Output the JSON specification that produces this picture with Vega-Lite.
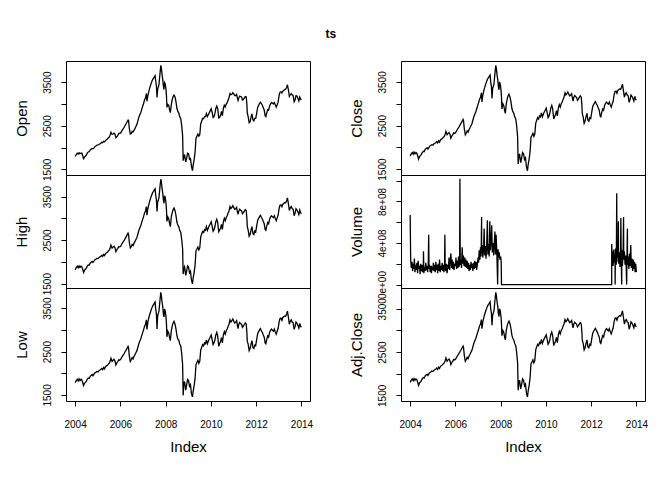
{
  "$schema": "https://vega.github.io/schema/vega-lite/v6.json",
  "padding": {"left": 13, "top": 27, "right": 5, "bottom": 5},
  "background": "white",
  "title": {"text": "ts", "anchor": "middle", "offset": 20},
  "datasets": {
    "px": [
      {"d":"2004-01-02","Open":1795,"High":1815,"Low":1785,"Close":1800},
      {"d":"2004-01-20","Open":1840,"High":1870,"Low":1830,"Close":1850},
      {"d":"2004-02-05","Open":1870,"High":1900,"Low":1860,"Close":1880},
      {"d":"2004-02-20","Open":1850,"High":1865,"Low":1820,"Close":1840},
      {"d":"2004-03-05","Open":1880,"High":1910,"Low":1870,"Close":1890},
      {"d":"2004-03-20","Open":1860,"High":1875,"Low":1830,"Close":1850},
      {"d":"2004-04-05","Open":1870,"High":1900,"Low":1860,"Close":1880},
      {"d":"2004-04-20","Open":1870,"High":1885,"Low":1840,"Close":1860},
      {"d":"2004-05-05","Open":1800,"High":1815,"Low":1770,"Close":1790},
      {"d":"2004-05-17","Open":1745,"High":1755,"Low":1715,"Close":1730},
      {"d":"2004-06-01","Open":1780,"High":1810,"Low":1770,"Close":1790},
      {"d":"2004-06-15","Open":1800,"High":1830,"Low":1790,"Close":1810},
      {"d":"2004-07-01","Open":1830,"High":1860,"Low":1820,"Close":1840},
      {"d":"2004-07-15","Open":1870,"High":1900,"Low":1860,"Close":1880},
      {"d":"2004-08-01","Open":1900,"High":1930,"Low":1890,"Close":1910},
      {"d":"2004-08-15","Open":1910,"High":1925,"Low":1880,"Close":1900},
      {"d":"2004-09-01","Open":1940,"High":1970,"Low":1930,"Close":1950},
      {"d":"2004-09-15","Open":1960,"High":1990,"Low":1950,"Close":1970},
      {"d":"2004-10-01","Open":1980,"High":2010,"Low":1970,"Close":1990},
      {"d":"2004-10-15","Open":1970,"High":1985,"Low":1940,"Close":1960},
      {"d":"2004-11-01","Open":1990,"High":2020,"Low":1980,"Close":2000},
      {"d":"2004-11-15","Open":2020,"High":2050,"Low":2010,"Close":2030},
      {"d":"2004-12-01","Open":2035,"High":2060,"Low":2020,"Close":2040},
      {"d":"2004-12-15","Open":2050,"High":2080,"Low":2040,"Close":2060},
      {"d":"2005-01-03","Open":2060,"High":2075,"Low":2030,"Close":2050},
      {"d":"2005-01-20","Open":2070,"High":2100,"Low":2060,"Close":2080},
      {"d":"2005-02-05","Open":2085,"High":2115,"Low":2075,"Close":2095},
      {"d":"2005-02-20","Open":2100,"High":2130,"Low":2090,"Close":2110},
      {"d":"2005-03-05","Open":2120,"High":2150,"Low":2110,"Close":2130},
      {"d":"2005-03-20","Open":2110,"High":2125,"Low":2080,"Close":2100},
      {"d":"2005-04-05","Open":2140,"High":2170,"Low":2130,"Close":2150},
      {"d":"2005-04-20","Open":2130,"High":2145,"Low":2100,"Close":2120},
      {"d":"2005-05-05","Open":2160,"High":2190,"Low":2150,"Close":2170},
      {"d":"2005-05-20","Open":2180,"High":2210,"Low":2170,"Close":2190},
      {"d":"2005-06-05","Open":2195,"High":2220,"Low":2180,"Close":2200},
      {"d":"2005-06-20","Open":2220,"High":2250,"Low":2210,"Close":2230},
      {"d":"2005-07-05","Open":2240,"High":2270,"Low":2230,"Close":2250},
      {"d":"2005-07-20","Open":2290,"High":2320,"Low":2280,"Close":2300},
      {"d":"2005-08-01","Open":2350,"High":2385,"Low":2345,"Close":2365},
      {"d":"2005-08-20","Open":2300,"High":2315,"Low":2270,"Close":2290},
      {"d":"2005-09-05","Open":2310,"High":2340,"Low":2300,"Close":2320},
      {"d":"2005-09-20","Open":2330,"High":2360,"Low":2320,"Close":2340},
      {"d":"2005-10-05","Open":2310,"High":2325,"Low":2280,"Close":2300},
      {"d":"2005-10-20","Open":2225,"High":2235,"Low":2190,"Close":2210},
      {"d":"2005-11-05","Open":2250,"High":2280,"Low":2240,"Close":2260},
      {"d":"2005-11-20","Open":2280,"High":2310,"Low":2270,"Close":2290},
      {"d":"2005-12-05","Open":2320,"High":2350,"Low":2310,"Close":2330},
      {"d":"2005-12-20","Open":2330,"High":2345,"Low":2300,"Close":2320},
      {"d":"2006-01-05","Open":2330,"High":2360,"Low":2320,"Close":2340},
      {"d":"2006-01-20","Open":2370,"High":2400,"Low":2360,"Close":2380},
      {"d":"2006-02-05","Open":2410,"High":2440,"Low":2400,"Close":2420},
      {"d":"2006-02-20","Open":2440,"High":2470,"Low":2430,"Close":2450},
      {"d":"2006-03-05","Open":2470,"High":2500,"Low":2460,"Close":2480},
      {"d":"2006-03-20","Open":2510,"High":2540,"Low":2500,"Close":2520},
      {"d":"2006-04-05","Open":2550,"High":2580,"Low":2540,"Close":2560},
      {"d":"2006-04-20","Open":2590,"High":2620,"Low":2580,"Close":2600},
      {"d":"2006-05-05","Open":2630,"High":2660,"Low":2620,"Close":2640},
      {"d":"2006-05-12","Open":2625,"High":2635,"Low":2590,"Close":2610},
      {"d":"2006-05-25","Open":2440,"High":2450,"Low":2400,"Close":2420},
      {"d":"2006-06-10","Open":2310,"High":2320,"Low":2270,"Close":2290},
      {"d":"2006-06-25","Open":2320,"High":2350,"Low":2310,"Close":2330},
      {"d":"2006-07-10","Open":2370,"High":2400,"Low":2360,"Close":2380},
      {"d":"2006-07-25","Open":2360,"High":2375,"Low":2330,"Close":2350},
      {"d":"2006-08-10","Open":2400,"High":2430,"Low":2390,"Close":2410},
      {"d":"2006-08-25","Open":2440,"High":2470,"Low":2430,"Close":2450},
      {"d":"2006-09-10","Open":2490,"High":2520,"Low":2480,"Close":2500},
      {"d":"2006-09-25","Open":2530,"High":2560,"Low":2520,"Close":2540},
      {"d":"2006-10-10","Open":2610,"High":2640,"Low":2600,"Close":2620},
      {"d":"2006-10-25","Open":2690,"High":2720,"Low":2680,"Close":2700},
      {"d":"2006-11-10","Open":2750,"High":2780,"Low":2740,"Close":2760},
      {"d":"2006-11-25","Open":2800,"High":2830,"Low":2790,"Close":2810},
      {"d":"2006-12-10","Open":2870,"High":2900,"Low":2860,"Close":2880},
      {"d":"2006-12-25","Open":2940,"High":2970,"Low":2930,"Close":2950},
      {"d":"2007-01-10","Open":3010,"High":3040,"Low":3000,"Close":3020},
      {"d":"2007-01-25","Open":3090,"High":3120,"Low":3080,"Close":3100},
      {"d":"2007-02-10","Open":3140,"High":3170,"Low":3130,"Close":3150},
      {"d":"2007-02-25","Open":3240,"High":3270,"Low":3230,"Close":3250},
      {"d":"2007-03-05","Open":3060,"High":3070,"Low":3010,"Close":3040},
      {"d":"2007-03-20","Open":3190,"High":3220,"Low":3180,"Close":3200},
      {"d":"2007-04-05","Open":3290,"High":3320,"Low":3280,"Close":3300},
      {"d":"2007-04-20","Open":3370,"High":3400,"Low":3360,"Close":3380},
      {"d":"2007-05-05","Open":3440,"High":3470,"Low":3430,"Close":3450},
      {"d":"2007-05-20","Open":3500,"High":3530,"Low":3490,"Close":3510},
      {"d":"2007-06-05","Open":3560,"High":3590,"Low":3550,"Close":3570},
      {"d":"2007-06-20","Open":3590,"High":3620,"Low":3580,"Close":3600},
      {"d":"2007-07-05","Open":3630,"High":3660,"Low":3620,"Close":3640},
      {"d":"2007-07-15","Open":3650,"High":3680,"Low":3640,"Close":3660},
      {"d":"2007-07-25","Open":3520,"High":3530,"Low":3480,"Close":3500},
      {"d":"2007-08-05","Open":3420,"High":3430,"Low":3370,"Close":3400},
      {"d":"2007-08-15","Open":3150,"High":3160,"Low":3020,"Close":3120},
      {"d":"2007-08-25","Open":3330,"High":3370,"Low":3320,"Close":3350},
      {"d":"2007-09-05","Open":3390,"High":3420,"Low":3380,"Close":3400},
      {"d":"2007-09-15","Open":3440,"High":3470,"Low":3430,"Close":3450},
      {"d":"2007-09-25","Open":3590,"High":3620,"Low":3580,"Close":3600},
      {"d":"2007-10-05","Open":3740,"High":3770,"Low":3730,"Close":3750},
      {"d":"2007-10-15","Open":3886,"High":3898,"Low":3866,"Close":3880},
      {"d":"2007-10-25","Open":3810,"High":3825,"Low":3780,"Close":3800},
      {"d":"2007-11-05","Open":3670,"High":3680,"Low":3630,"Close":3650},
      {"d":"2007-11-15","Open":3570,"High":3585,"Low":3540,"Close":3560},
      {"d":"2007-11-25","Open":3420,"High":3430,"Low":3380,"Close":3400},
      {"d":"2007-12-05","Open":3330,"High":3345,"Low":3300,"Close":3320},
      {"d":"2007-12-15","Open":3490,"High":3520,"Low":3480,"Close":3500},
      {"d":"2007-12-26","Open":3460,"High":3475,"Low":3430,"Close":3450},
      {"d":"2008-01-08","Open":3320,"High":3330,"Low":3280,"Close":3300},
      {"d":"2008-01-15","Open":3170,"High":3180,"Low":3120,"Close":3150},
      {"d":"2008-01-22","Open":2920,"High":2930,"Low":2840,"Close":2880},
      {"d":"2008-02-05","Open":2990,"High":3030,"Low":2970,"Close":3000},
      {"d":"2008-02-20","Open":2970,"High":2990,"Low":2930,"Close":2960},
      {"d":"2008-03-05","Open":2860,"High":2880,"Low":2820,"Close":2850},
      {"d":"2008-03-17","Open":2800,"High":2810,"Low":2750,"Close":2780},
      {"d":"2008-04-01","Open":2980,"High":3030,"Low":2970,"Close":3000},
      {"d":"2008-04-15","Open":3090,"High":3120,"Low":3080,"Close":3100},
      {"d":"2008-05-01","Open":3170,"High":3200,"Low":3160,"Close":3180},
      {"d":"2008-05-15","Open":3205,"High":3235,"Low":3195,"Close":3215},
      {"d":"2008-06-01","Open":3160,"High":3175,"Low":3130,"Close":3150},
      {"d":"2008-06-15","Open":3060,"High":3075,"Low":3030,"Close":3050},
      {"d":"2008-07-01","Open":2900,"High":2915,"Low":2870,"Close":2890},
      {"d":"2008-07-15","Open":2830,"High":2845,"Low":2790,"Close":2820},
      {"d":"2008-08-01","Open":2790,"High":2805,"Low":2760,"Close":2780},
      {"d":"2008-08-15","Open":2710,"High":2725,"Low":2680,"Close":2700},
      {"d":"2008-09-01","Open":2660,"High":2675,"Low":2630,"Close":2650},
      {"d":"2008-09-15","Open":2520,"High":2530,"Low":2470,"Close":2500},
      {"d":"2008-10-01","Open":2280,"High":2300,"Low":2200,"Close":2250},
      {"d":"2008-10-10","Open":1700,"High":1720,"Low":1490,"Close":1620},
      {"d":"2008-10-20","Open":1780,"High":1850,"Low":1760,"Close":1800},
      {"d":"2008-11-01","Open":1840,"High":1890,"Low":1810,"Close":1850},
      {"d":"2008-11-20","Open":1670,"High":1690,"Low":1610,"Close":1650},
      {"d":"2008-12-05","Open":1750,"High":1790,"Low":1730,"Close":1760},
      {"d":"2008-12-20","Open":1870,"High":1905,"Low":1855,"Close":1880},
      {"d":"2009-01-05","Open":1860,"High":1880,"Low":1830,"Close":1850},
      {"d":"2009-01-20","Open":1730,"High":1750,"Low":1700,"Close":1720},
      {"d":"2009-02-05","Open":1750,"High":1785,"Low":1740,"Close":1760},
      {"d":"2009-02-20","Open":1580,"High":1590,"Low":1535,"Close":1560},
      {"d":"2009-03-09","Open":1468,"High":1495,"Low":1455,"Close":1462},
      {"d":"2009-03-20","Open":1590,"High":1625,"Low":1580,"Close":1600},
      {"d":"2009-04-05","Open":1720,"High":1755,"Low":1710,"Close":1730},
      {"d":"2009-04-20","Open":1890,"High":1925,"Low":1880,"Close":1900},
      {"d":"2009-05-05","Open":2210,"High":2255,"Low":2200,"Close":2230},
      {"d":"2009-05-20","Open":2260,"High":2290,"Low":2250,"Close":2270},
      {"d":"2009-06-05","Open":2310,"High":2340,"Low":2300,"Close":2320},
      {"d":"2009-06-20","Open":2260,"High":2275,"Low":2230,"Close":2250},
      {"d":"2009-07-05","Open":2290,"High":2320,"Low":2280,"Close":2300},
      {"d":"2009-07-20","Open":2540,"High":2570,"Low":2530,"Close":2550},
      {"d":"2009-08-05","Open":2610,"High":2640,"Low":2600,"Close":2620},
      {"d":"2009-08-20","Open":2670,"High":2700,"Low":2660,"Close":2680},
      {"d":"2009-09-05","Open":2660,"High":2675,"Low":2630,"Close":2650},
      {"d":"2009-09-20","Open":2710,"High":2740,"Low":2700,"Close":2720},
      {"d":"2009-10-05","Open":2710,"High":2725,"Low":2680,"Close":2700},
      {"d":"2009-10-20","Open":2780,"High":2810,"Low":2770,"Close":2790},
      {"d":"2009-11-05","Open":2710,"High":2725,"Low":2680,"Close":2700},
      {"d":"2009-11-20","Open":2750,"High":2780,"Low":2740,"Close":2760},
      {"d":"2009-12-05","Open":2800,"High":2830,"Low":2790,"Close":2810},
      {"d":"2009-12-20","Open":2840,"High":2870,"Low":2830,"Close":2850},
      {"d":"2010-01-05","Open":2890,"High":2920,"Low":2880,"Close":2900},
      {"d":"2010-01-20","Open":2810,"High":2825,"Low":2780,"Close":2800},
      {"d":"2010-02-05","Open":2690,"High":2705,"Low":2660,"Close":2680},
      {"d":"2010-02-20","Open":2710,"High":2740,"Low":2700,"Close":2720},
      {"d":"2010-03-05","Open":2770,"High":2800,"Low":2760,"Close":2780},
      {"d":"2010-03-20","Open":2890,"High":2920,"Low":2880,"Close":2900},
      {"d":"2010-04-05","Open":2950,"High":2980,"Low":2940,"Close":2960},
      {"d":"2010-04-20","Open":2890,"High":2905,"Low":2860,"Close":2880},
      {"d":"2010-05-07","Open":2680,"High":2690,"Low":2620,"Close":2650},
      {"d":"2010-05-20","Open":2690,"High":2725,"Low":2680,"Close":2700},
      {"d":"2010-06-05","Open":2740,"High":2770,"Low":2730,"Close":2750},
      {"d":"2010-06-20","Open":2830,"High":2860,"Low":2820,"Close":2840},
      {"d":"2010-07-05","Open":2730,"High":2745,"Low":2700,"Close":2720},
      {"d":"2010-07-20","Open":2890,"High":2920,"Low":2880,"Close":2900},
      {"d":"2010-08-05","Open":2970,"High":3000,"Low":2960,"Close":2980},
      {"d":"2010-08-20","Open":2930,"High":2945,"Low":2900,"Close":2920},
      {"d":"2010-09-05","Open":2990,"High":3020,"Low":2980,"Close":3000},
      {"d":"2010-09-20","Open":3030,"High":3060,"Low":3020,"Close":3040},
      {"d":"2010-10-05","Open":3090,"High":3120,"Low":3080,"Close":3100},
      {"d":"2010-10-20","Open":3140,"High":3170,"Low":3130,"Close":3150},
      {"d":"2010-11-05","Open":3240,"High":3270,"Low":3230,"Close":3250},
      {"d":"2010-11-20","Open":3210,"High":3225,"Low":3180,"Close":3200},
      {"d":"2010-12-05","Open":3220,"High":3250,"Low":3210,"Close":3230},
      {"d":"2010-12-20","Open":3260,"High":3290,"Low":3250,"Close":3270},
      {"d":"2011-01-05","Open":3230,"High":3245,"Low":3200,"Close":3220},
      {"d":"2011-01-20","Open":3190,"High":3205,"Low":3160,"Close":3180},
      {"d":"2011-02-05","Open":3190,"High":3220,"Low":3180,"Close":3200},
      {"d":"2011-02-20","Open":3220,"High":3250,"Low":3210,"Close":3230},
      {"d":"2011-03-05","Open":3130,"High":3145,"Low":3100,"Close":3120},
      {"d":"2011-03-15","Open":3080,"High":3090,"Low":3030,"Close":3060},
      {"d":"2011-03-25","Open":3130,"High":3160,"Low":3120,"Close":3140},
      {"d":"2011-04-10","Open":3180,"High":3210,"Low":3170,"Close":3190},
      {"d":"2011-04-25","Open":3170,"High":3185,"Low":3140,"Close":3160},
      {"d":"2011-05-10","Open":3160,"High":3175,"Low":3130,"Close":3150},
      {"d":"2011-05-25","Open":3090,"High":3105,"Low":3060,"Close":3080},
      {"d":"2011-06-10","Open":3100,"High":3130,"Low":3090,"Close":3110},
      {"d":"2011-06-25","Open":3140,"High":3170,"Low":3130,"Close":3150},
      {"d":"2011-07-10","Open":3170,"High":3200,"Low":3160,"Close":3180},
      {"d":"2011-07-25","Open":3160,"High":3175,"Low":3130,"Close":3150},
      {"d":"2011-08-05","Open":2980,"High":2990,"Low":2920,"Close":2950},
      {"d":"2011-08-10","Open":2800,"High":2820,"Low":2740,"Close":2780},
      {"d":"2011-08-25","Open":2710,"High":2730,"Low":2670,"Close":2700},
      {"d":"2011-09-10","Open":2570,"High":2590,"Low":2520,"Close":2550},
      {"d":"2011-09-25","Open":2590,"High":2630,"Low":2570,"Close":2600},
      {"d":"2011-10-10","Open":2690,"High":2730,"Low":2670,"Close":2700},
      {"d":"2011-10-25","Open":2770,"High":2810,"Low":2750,"Close":2780},
      {"d":"2011-11-10","Open":2640,"High":2650,"Low":2590,"Close":2620},
      {"d":"2011-11-25","Open":2610,"High":2630,"Low":2570,"Close":2600},
      {"d":"2011-12-10","Open":2670,"High":2710,"Low":2650,"Close":2680},
      {"d":"2011-12-25","Open":2670,"High":2690,"Low":2640,"Close":2660},
      {"d":"2012-01-10","Open":2790,"High":2825,"Low":2780,"Close":2800},
      {"d":"2012-01-25","Open":2920,"High":2950,"Low":2910,"Close":2930},
      {"d":"2012-02-10","Open":2970,"High":3000,"Low":2960,"Close":2980},
      {"d":"2012-02-25","Open":3010,"High":3040,"Low":3000,"Close":3020},
      {"d":"2012-03-10","Open":3040,"High":3070,"Low":3030,"Close":3050},
      {"d":"2012-03-25","Open":3010,"High":3025,"Low":2980,"Close":3000},
      {"d":"2012-04-10","Open":2970,"High":2985,"Low":2940,"Close":2960},
      {"d":"2012-04-25","Open":2910,"High":2925,"Low":2880,"Close":2900},
      {"d":"2012-05-10","Open":2860,"High":2875,"Low":2830,"Close":2850},
      {"d":"2012-05-25","Open":2730,"High":2745,"Low":2700,"Close":2720},
      {"d":"2012-06-05","Open":2710,"High":2725,"Low":2680,"Close":2700},
      {"d":"2012-06-20","Open":2790,"High":2820,"Low":2780,"Close":2800},
      {"d":"2012-07-05","Open":2870,"High":2900,"Low":2860,"Close":2880},
      {"d":"2012-07-20","Open":2860,"High":2875,"Low":2830,"Close":2850},
      {"d":"2012-08-05","Open":2950,"High":2980,"Low":2940,"Close":2960},
      {"d":"2012-08-20","Open":3000,"High":3030,"Low":2990,"Close":3010},
      {"d":"2012-09-05","Open":3030,"High":3060,"Low":3020,"Close":3040},
      {"d":"2012-09-20","Open":3020,"High":3035,"Low":2990,"Close":3010},
      {"d":"2012-10-05","Open":3000,"High":3015,"Low":2970,"Close":2990},
      {"d":"2012-10-20","Open":3030,"High":3060,"Low":3020,"Close":3040},
      {"d":"2012-11-05","Open":2980,"High":2995,"Low":2950,"Close":2970},
      {"d":"2012-11-20","Open":2930,"High":2945,"Low":2900,"Close":2920},
      {"d":"2012-12-05","Open":2980,"High":3010,"Low":2970,"Close":2990},
      {"d":"2012-12-20","Open":3040,"High":3070,"Low":3030,"Close":3050},
      {"d":"2013-01-05","Open":3190,"High":3220,"Low":3180,"Close":3200},
      {"d":"2013-01-20","Open":3270,"High":3300,"Low":3260,"Close":3280},
      {"d":"2013-02-05","Open":3280,"High":3310,"Low":3270,"Close":3290},
      {"d":"2013-02-20","Open":3250,"High":3265,"Low":3220,"Close":3240},
      {"d":"2013-03-05","Open":3290,"High":3320,"Low":3280,"Close":3300},
      {"d":"2013-03-20","Open":3310,"High":3340,"Low":3300,"Close":3320},
      {"d":"2013-04-05","Open":3330,"High":3360,"Low":3320,"Close":3340},
      {"d":"2013-04-20","Open":3340,"High":3355,"Low":3310,"Close":3330},
      {"d":"2013-05-05","Open":3370,"High":3400,"Low":3360,"Close":3380},
      {"d":"2013-05-20","Open":3440,"High":3470,"Low":3430,"Close":3450},
      {"d":"2013-06-05","Open":3320,"High":3330,"Low":3280,"Close":3300},
      {"d":"2013-06-20","Open":3170,"High":3180,"Low":3130,"Close":3150},
      {"d":"2013-07-05","Open":3210,"High":3240,"Low":3200,"Close":3220},
      {"d":"2013-07-20","Open":3240,"High":3270,"Low":3230,"Close":3250},
      {"d":"2013-08-05","Open":3210,"High":3225,"Low":3180,"Close":3200},
      {"d":"2013-08-20","Open":3190,"High":3205,"Low":3160,"Close":3180},
      {"d":"2013-09-05","Open":3050,"High":3060,"Low":3010,"Close":3030},
      {"d":"2013-09-20","Open":3090,"High":3120,"Low":3080,"Close":3100},
      {"d":"2013-10-05","Open":3190,"High":3220,"Low":3180,"Close":3200},
      {"d":"2013-10-20","Open":3180,"High":3195,"Low":3150,"Close":3170},
      {"d":"2013-11-05","Open":3130,"High":3145,"Low":3100,"Close":3120},
      {"d":"2013-11-20","Open":3070,"High":3085,"Low":3040,"Close":3060},
      {"d":"2013-12-05","Open":3160,"High":3190,"Low":3150,"Close":3170},
      {"d":"2013-12-20","Open":3110,"High":3125,"Low":3080,"Close":3100},
      {"d":"2013-12-31","Open":3090,"High":3105,"Low":3060,"Close":3080}
    ],
    "vol": [
      {"d":"2004-01-02","Volume":6.7e8},{"d":"2004-01-10","Volume":2.4e8},{"d":"2004-01-20","Volume":1.6e8},
      {"d":"2004-02-01","Volume":2.2e8},{"d":"2004-02-10","Volume":1.3e8},{"d":"2004-02-20","Volume":2.0e8},
      {"d":"2004-03-01","Volume":1.5e8},{"d":"2004-03-10","Volume":2.5e8},{"d":"2004-03-20","Volume":1.2e8},
      {"d":"2004-04-01","Volume":1.9e8},{"d":"2004-04-10","Volume":1.4e8},{"d":"2004-04-20","Volume":2.1e8},
      {"d":"2004-05-01","Volume":1.1e8},{"d":"2004-05-10","Volume":2.3e8},{"d":"2004-05-20","Volume":1.5e8},
      {"d":"2004-06-01","Volume":1.8e8},{"d":"2004-06-10","Volume":1.0e8},{"d":"2004-06-20","Volume":2.0e8},
      {"d":"2004-07-01","Volume":1.3e8},{"d":"2004-07-10","Volume":1.9e8},{"d":"2004-07-20","Volume":1.2e8},
      {"d":"2004-08-01","Volume":1.6e8},{"d":"2004-08-04","Volume":3.2e8},{"d":"2004-08-10","Volume":1.1e8},{"d":"2004-08-20","Volume":1.7e8},
      {"d":"2004-09-01","Volume":1.3e8},{"d":"2004-09-10","Volume":2.1e8},{"d":"2004-09-20","Volume":1.4e8},
      {"d":"2004-10-01","Volume":1.8e8},{"d":"2004-10-10","Volume":1.2e8},{"d":"2004-10-20","Volume":2.0e8},{"d":"2004-10-27","Volume":4.8e8},
      {"d":"2004-11-01","Volume":1.5e8},{"d":"2004-11-10","Volume":1.9e8},{"d":"2004-11-20","Volume":1.2e8},
      {"d":"2004-12-01","Volume":1.8e8},{"d":"2004-12-10","Volume":1.1e8},{"d":"2004-12-20","Volume":1.6e8},
      {"d":"2005-01-03","Volume":1.4e8},{"d":"2005-01-10","Volume":2.1e8},{"d":"2005-01-20","Volume":1.3e8},
      {"d":"2005-02-01","Volume":1.9e8},{"d":"2005-02-10","Volume":1.2e8},{"d":"2005-02-20","Volume":2.2e8},
      {"d":"2005-03-01","Volume":1.4e8},{"d":"2005-03-10","Volume":1.9e8},{"d":"2005-03-20","Volume":1.1e8},
      {"d":"2005-04-01","Volume":2.0e8},{"d":"2005-04-10","Volume":1.3e8},{"d":"2005-04-20","Volume":2.4e8},
      {"d":"2005-05-01","Volume":1.2e8},{"d":"2005-05-10","Volume":1.8e8},{"d":"2005-05-20","Volume":1.4e8},
      {"d":"2005-06-01","Volume":2.1e8},{"d":"2005-06-10","Volume":1.3e8},{"d":"2005-06-20","Volume":1.9e8},
      {"d":"2005-07-01","Volume":1.2e8},{"d":"2005-07-10","Volume":1.8e8},{"d":"2005-07-15","Volume":4.8e8},{"d":"2005-07-20","Volume":1.7e8},
      {"d":"2005-08-01","Volume":1.3e8},{"d":"2005-08-10","Volume":2.0e8},{"d":"2005-08-20","Volume":1.1e8},
      {"d":"2005-09-01","Volume":1.9e8},{"d":"2005-09-10","Volume":1.5e8},{"d":"2005-09-20","Volume":2.6e8},
      {"d":"2005-10-01","Volume":1.4e8},{"d":"2005-10-10","Volume":2.2e8},{"d":"2005-10-20","Volume":3.0e8},
      {"d":"2005-11-01","Volume":1.6e8},{"d":"2005-11-10","Volume":2.4e8},{"d":"2005-11-20","Volume":1.5e8},
      {"d":"2005-12-01","Volume":2.2e8},{"d":"2005-12-10","Volume":1.4e8},{"d":"2005-12-20","Volume":2.0e8},
      {"d":"2006-01-03","Volume":1.8e8},{"d":"2006-01-10","Volume":2.6e8},{"d":"2006-01-20","Volume":1.5e8},
      {"d":"2006-02-01","Volume":2.3e8},{"d":"2006-02-10","Volume":1.6e8},{"d":"2006-02-20","Volume":2.7e8},
      {"d":"2006-03-01","Volume":1.7e8},{"d":"2006-03-10","Volume":2.2e8},{"d":"2006-03-15","Volume":1.02e9},{"d":"2006-03-20","Volume":1.9e8},
      {"d":"2006-04-01","Volume":2.4e8},{"d":"2006-04-10","Volume":1.6e8},{"d":"2006-04-20","Volume":3.6e8},
      {"d":"2006-05-01","Volume":2.0e8},{"d":"2006-05-10","Volume":2.8e8},{"d":"2006-05-20","Volume":1.8e8},
      {"d":"2006-06-01","Volume":2.6e8},{"d":"2006-06-10","Volume":1.7e8},{"d":"2006-06-20","Volume":2.4e8},
      {"d":"2006-07-01","Volume":1.6e8},{"d":"2006-07-10","Volume":2.3e8},{"d":"2006-07-20","Volume":1.5e8},
      {"d":"2006-08-01","Volume":2.1e8},{"d":"2006-08-10","Volume":1.3e8},{"d":"2006-08-20","Volume":1.9e8},
      {"d":"2006-09-01","Volume":1.4e8},{"d":"2006-09-10","Volume":2.2e8},{"d":"2006-09-20","Volume":1.6e8},
      {"d":"2006-10-01","Volume":2.0e8},{"d":"2006-10-10","Volume":1.3e8},{"d":"2006-10-20","Volume":2.1e8},
      {"d":"2006-11-01","Volume":1.5e8},{"d":"2006-11-10","Volume":2.3e8},{"d":"2006-11-20","Volume":1.6e8},
      {"d":"2006-12-01","Volume":2.2e8},{"d":"2006-12-10","Volume":1.4e8},{"d":"2006-12-20","Volume":1.9e8},
      {"d":"2007-01-03","Volume":2.6e8},{"d":"2007-01-10","Volume":2.1e8},{"d":"2007-01-20","Volume":3.3e8},
      {"d":"2007-02-01","Volume":2.4e8},{"d":"2007-02-10","Volume":3.6e8},{"d":"2007-02-20","Volume":2.7e8},{"d":"2007-02-28","Volume":6.5e8},
      {"d":"2007-03-01","Volume":3.0e8},{"d":"2007-03-10","Volume":3.8e8},{"d":"2007-03-20","Volume":2.6e8},
      {"d":"2007-04-01","Volume":3.4e8},{"d":"2007-04-10","Volume":5.4e8},{"d":"2007-04-20","Volume":2.8e8},
      {"d":"2007-05-01","Volume":3.7e8},{"d":"2007-05-10","Volume":2.5e8},{"d":"2007-05-20","Volume":3.5e8},
      {"d":"2007-06-01","Volume":6.2e8},{"d":"2007-06-10","Volume":2.9e8},{"d":"2007-06-20","Volume":3.9e8},
      {"d":"2007-07-01","Volume":2.7e8},{"d":"2007-07-10","Volume":6.1e8},{"d":"2007-07-20","Volume":3.3e8},
      {"d":"2007-08-01","Volume":4.2e8},{"d":"2007-08-10","Volume":5.7e8},{"d":"2007-08-20","Volume":3.1e8},
      {"d":"2007-09-01","Volume":4.0e8},{"d":"2007-09-10","Volume":2.8e8},{"d":"2007-09-20","Volume":3.8e8},
      {"d":"2007-10-01","Volume":5.1e8},{"d":"2007-10-10","Volume":2.9e8},{"d":"2007-10-20","Volume":4.8e8},
      {"d":"2007-11-01","Volume":3.0e8},{"d":"2007-11-14","Volume":0},{"d":"2007-11-20","Volume":3.4e8},
      {"d":"2007-12-01","Volume":2.6e8},{"d":"2007-12-10","Volume":3.1e8},{"d":"2007-12-20","Volume":2.4e8},
      {"d":"2008-01-02","Volume":2.7e8},{"d":"2008-01-10","Volume":2.2e8},{"d":"2008-01-15","Volume":0},
      {"d":"2008-04-01","Volume":0},{"d":"2008-08-01","Volume":0},{"d":"2008-12-01","Volume":0},
      {"d":"2009-04-01","Volume":0},{"d":"2009-08-01","Volume":0},{"d":"2009-12-01","Volume":0},
      {"d":"2010-04-01","Volume":0},{"d":"2010-08-01","Volume":0},{"d":"2010-12-01","Volume":0},
      {"d":"2011-04-01","Volume":0},{"d":"2011-08-01","Volume":0},{"d":"2011-12-01","Volume":0},
      {"d":"2012-04-01","Volume":0},{"d":"2012-08-01","Volume":0},{"d":"2012-11-27","Volume":0},
      {"d":"2012-11-28","Volume":3.9e8},
      {"d":"2012-12-05","Volume":2.6e8},{"d":"2012-12-12","Volume":3.2e8},{"d":"2012-12-20","Volume":1.8e8},
      {"d":"2013-01-02","Volume":3.4e8},{"d":"2013-01-10","Volume":2.1e8},{"d":"2013-01-20","Volume":2.9e8},{"d":"2013-01-22","Volume":0},{"d":"2013-01-25","Volume":2.4e8},
      {"d":"2013-02-01","Volume":3.5e8},{"d":"2013-02-10","Volume":1.9e8},{"d":"2013-02-17","Volume":8.8e8},{"d":"2013-02-20","Volume":2.6e8},
      {"d":"2013-03-01","Volume":3.8e8},{"d":"2013-03-10","Volume":2.2e8},{"d":"2013-03-15","Volume":6.1e8},{"d":"2013-03-20","Volume":2.0e8},
      {"d":"2013-04-01","Volume":3.1e8},{"d":"2013-04-10","Volume":1.7e8},{"d":"2013-04-20","Volume":2.9e8},{"d":"2013-04-24","Volume":6.4e8},
      {"d":"2013-05-01","Volume":2.3e8},{"d":"2013-05-08","Volume":0},{"d":"2013-05-10","Volume":3.3e8},{"d":"2013-05-20","Volume":1.8e8},
      {"d":"2013-06-01","Volume":3.6e8},{"d":"2013-06-07","Volume":6.5e8},{"d":"2013-06-10","Volume":2.4e8},{"d":"2013-06-20","Volume":3.2e8},
      {"d":"2013-07-01","Volume":1.9e8},{"d":"2013-07-10","Volume":2.8e8},{"d":"2013-07-20","Volume":1.6e8},{"d":"2013-07-27","Volume":0},
      {"d":"2013-08-01","Volume":2.6e8},{"d":"2013-08-08","Volume":5.4e8},{"d":"2013-08-10","Volume":1.9e8},{"d":"2013-08-20","Volume":2.7e8},
      {"d":"2013-09-01","Volume":1.5e8},{"d":"2013-09-10","Volume":3.0e8},{"d":"2013-09-20","Volume":1.8e8},
      {"d":"2013-10-01","Volume":3.8e8},{"d":"2013-10-10","Volume":1.6e8},{"d":"2013-10-20","Volume":2.5e8},
      {"d":"2013-11-01","Volume":1.3e8},{"d":"2013-11-10","Volume":2.4e8},{"d":"2013-11-20","Volume":1.5e8},
      {"d":"2013-12-01","Volume":2.2e8},{"d":"2013-12-10","Volume":1.2e8},{"d":"2013-12-20","Volume":2.0e8},{"d":"2013-12-31","Volume":1.2e8}
    ]
  },
  "hconcat": [
    {
      "spacing": 0,
      "bounds": "flush",
      "vconcat": [
        {
          "width": 244, "height": 114,
          "data": {"name": "px"},
          "mark": {"type": "line", "color": "black", "strokeWidth": 1.3, "clip": true},
          "encoding": {
            "x": {"field": "d", "type": "temporal", "scale": {"domain": [{"year": 2003, "month": 8, "date": 7}, {"year": 2014, "month": 5, "date": 19}]}, "axis": null},
            "y": {"field": "Open", "type": "quantitative", "scale": {"domain": [1370, 3985], "zero": false, "nice": false},
                  "axis": {"title": "Open", "values": [1500, 2000, 2500, 3000, 3500], "format": "d", "labelExpr": "datum.value == 2000 || datum.value == 3000 ? '' : datum.label"}}
          }
        },
        {
          "width": 244, "height": 113,
          "data": {"name": "px"},
          "mark": {"type": "line", "color": "black", "strokeWidth": 1.3, "clip": true},
          "encoding": {
            "x": {"field": "d", "type": "temporal", "scale": {"domain": [{"year": 2003, "month": 8, "date": 7}, {"year": 2014, "month": 5, "date": 19}]}, "axis": null},
            "y": {"field": "High", "type": "quantitative", "scale": {"domain": [1400, 3995], "zero": false, "nice": false},
                  "axis": {"title": "High", "values": [1500, 2000, 2500, 3000, 3500], "format": "d", "labelExpr": "datum.value == 2000 || datum.value == 3000 ? '' : datum.label"}}
          }
        },
        {
          "width": 244, "height": 113,
          "data": {"name": "px"},
          "mark": {"type": "line", "color": "black", "strokeWidth": 1.3, "clip": true},
          "encoding": {
            "x": {"field": "d", "type": "temporal", "scale": {"domain": [{"year": 2003, "month": 8, "date": 7}, {"year": 2014, "month": 5, "date": 19}]},
                  "axis": {"title": "Index", "values": [{"year": 2004}, {"year": 2006}, {"year": 2008}, {"year": 2010}, {"year": 2012}, {"year": 2014}], "format": "%Y"}},
            "y": {"field": "Low", "type": "quantitative", "scale": {"domain": [1360, 3965], "zero": false, "nice": false},
                  "axis": {"title": "Low", "values": [1500, 2000, 2500, 3000, 3500], "format": "d", "labelExpr": "datum.value == 2000 || datum.value == 3000 ? '' : datum.label"}}
          }
        }
      ]
    },
    {
      "spacing": 0,
      "bounds": "flush",
      "vconcat": [
        {
          "width": 244, "height": 114,
          "data": {"name": "px"},
          "mark": {"type": "line", "color": "black", "strokeWidth": 1.3, "clip": true},
          "encoding": {
            "x": {"field": "d", "type": "temporal", "scale": {"domain": [{"year": 2003, "month": 8, "date": 7}, {"year": 2014, "month": 5, "date": 19}]}, "axis": null},
            "y": {"field": "Close", "type": "quantitative", "scale": {"domain": [1365, 3980], "zero": false, "nice": false},
                  "axis": {"title": "Close", "values": [1500, 2000, 2500, 3000, 3500], "format": "d", "labelExpr": "datum.value == 2000 || datum.value == 3000 ? '' : datum.label"}}
          }
        },
        {
          "width": 244, "height": 113,
          "data": {"name": "vol"},
          "mark": {"type": "line", "color": "black", "strokeWidth": 1.3, "clip": true},
          "encoding": {
            "x": {"field": "d", "type": "temporal", "scale": {"domain": [{"year": 2003, "month": 8, "date": 7}, {"year": 2014, "month": 5, "date": 19}]}, "axis": null},
            "y": {"field": "Volume", "type": "quantitative", "scale": {"domain": [-33000000, 1055000000], "zero": false, "nice": false},
                  "axis": {"title": "Volume", "values": [0, 200000000, 400000000, 600000000, 800000000, 1000000000], "labelExpr": "datum.value == 0 ? '0e+00' : datum.value == 400000000 ? '4e+08' : datum.value == 800000000 ? '8e+08' : ''"}}
          }
        },
        {
          "width": 244, "height": 113,
          "data": {"name": "px"},
          "mark": {"type": "line", "color": "black", "strokeWidth": 1.3, "clip": true},
          "encoding": {
            "x": {"field": "d", "type": "temporal", "scale": {"domain": [{"year": 2003, "month": 8, "date": 7}, {"year": 2014, "month": 5, "date": 19}]},
                  "axis": {"title": "Index", "values": [{"year": 2004}, {"year": 2006}, {"year": 2008}, {"year": 2010}, {"year": 2012}, {"year": 2014}], "format": "%Y"}},
            "y": {"field": "Close", "type": "quantitative", "scale": {"domain": [1370, 3980], "zero": false, "nice": false},
                  "axis": {"title": "Adj.Close", "values": [1500, 2000, 2500, 3000, 3500], "format": "d", "labelExpr": "datum.value == 2000 || datum.value == 3000 ? '' : datum.label"}}
          }
        }
      ]
    }
  ],
  "spacing": 34,
  "config": {
    "font": "Liberation Sans",
    "view": {"stroke": "black", "strokeWidth": 1},
    "title": {"fontSize": 12, "fontWeight": "bold", "font": "Liberation Sans", "color": "black"},
    "axis": {"domain": false, "grid": false, "ticks": true, "tickColor": "black", "tickSize": 5, "labelColor": "black", "labelFontSize": 10, "labelFont": "Liberation Sans", "titleFont": "Liberation Sans", "titleFontSize": 15, "titleFontWeight": "normal", "titleColor": "black", "labelOverlap": false, "labelFlush": false},
    "axisY": {"labelAngle": 270, "labelAlign": "center", "labelBaseline": "bottom", "labelPadding": 9, "titlePadding": 13},
    "axisX": {"labelPadding": 13, "titlePadding": 10}
  }
}
